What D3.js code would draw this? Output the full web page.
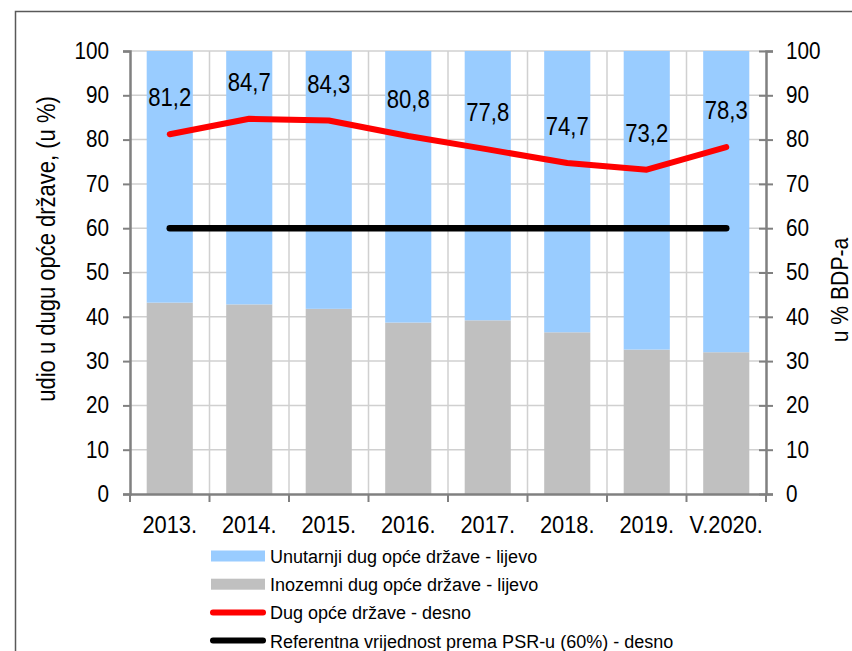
<!DOCTYPE html>
<html>
<head>
<meta charset="utf-8">
<script src="https://cdn.jsdelivr.net/npm/d3@7"></script>
<style>
    body { margin: 0; background: #fff; }
    svg { display: block; font-family: "Liberation Sans", Arial, sans-serif; }
</style>
</head>
<body>
<div id="chart"></div>
<script>
// data
const years = ["2013.", "2014.", "2015.", "2016.", "2017.", "2018.", "2019.", "V.2020."];
const foreignDebt = [43.2, 42.8, 41.8, 38.7, 39.2, 36.5, 32.6, 32.0];   // Inozemni, share in %
const domesticDebt = foreignDebt.map(v => +(100 - v).toFixed(1));     // Unutarnji, rest up to 100 %
const debtGdp = [81.2, 84.7, 84.3, 80.8, 77.8, 74.7, 73.2, 78.3];     // Dug opće države, % BDP-a
const referenceValue = [60, 60, 60, 60, 60, 60, 60, 60];                // PSR reference
const yTicks = [0, 10, 20, 30, 40, 50, 60, 70, 80, 90, 100];
const legendItems = [
    { label: "Unutarnji dug opće države - lijevo", type: "rect", colour: "#99ccff" },
    { label: "Inozemni dug opće države - lijevo", type: "rect", colour: "#c0c0c0" },
    { label: "Dug opće države - desno", type: "line", colour: "#ff0000" },
    { label: "Referentna vrijednost prema PSR-u (60%) - desno", type: "line", colour: "#000000" }
];

const W = 852, H = 651;
const margin = { top: 51, right: 86, bottom: 157, left: 130 };
const width = W - margin.left - margin.right;
const height = H - margin.top - margin.bottom;

// the original text is slightly condensed, squeeze it horizontally
function squeeze(sel, sx) {
    sel.each(function(){
        const t = d3.select(this);
        const x0 = +t.attr("x") || 0;
        t.attr("x", x0 / sx).attr("transform", "scale(" + sx + ",1)");
    });
}

const svg = d3.select("#chart").append("svg")
    .attr("width", W)
    .attr("height", H);

// outer frame (runs off the right and bottom edge like the original)
svg.append("rect")
    .attr("x", 15.5).attr("y", 11.5)
    .attr("width", W + 10).attr("height", H + 10)
    .attr("fill", "none")
    .attr("stroke", "#595959")
    .attr("stroke-width", 1.5);

const g = svg.append("g")
    .attr("transform", "translate(" + margin.left + "," + margin.top + ")");

// scales
const x = d3.scaleBand()
    .domain(years)
    .range([0, width])
    .paddingInner(0.42)
    .paddingOuter(0.21);

const yLeft = d3.scaleLinear().domain([0, 100]).range([height, 0]);
const yRight = d3.scaleLinear().domain([0, 100]).range([height, 0]);

const gap = (x.step() - x.bandwidth()) / 2;
const boundaries = years.map(d => x(d) - gap).concat([width]);
const centre = d => x(d) + x.bandwidth() / 2;

// gridlines
g.append("g").selectAll("line.h")
    .data(yTicks.slice(1))
    .join("line")
    .attr("x1", 0).attr("x2", width)
    .attr("y1", d => yLeft(d)).attr("y2", d => yLeft(d))
    .attr("stroke", "#d0d0d0")
    .attr("stroke-width", 1.5);

g.append("g").selectAll("line.v")
    .data(boundaries.slice(1, -1))
    .join("line")
    .attr("x1", d => d).attr("x2", d => d)
    .attr("y1", 0).attr("y2", height)
    .attr("stroke", "#d0d0d0")
    .attr("stroke-width", 1.5);

// stacked bars
g.append("g").selectAll("rect")
    .data(years)
    .join("rect")
    .attr("x", d => x(d))
    .attr("width", x.bandwidth())
    .attr("y", (d, i) => yLeft(foreignDebt[i]))
    .attr("height", (d, i) => height - yLeft(foreignDebt[i]))
    .attr("fill", "#c0c0c0");

g.append("g").selectAll("rect")
    .data(years)
    .join("rect")
    .attr("x", d => x(d))
    .attr("width", x.bandwidth())
    .attr("y", (d, i) => yLeft(foreignDebt[i] + domesticDebt[i]))
    .attr("height", (d, i) => yLeft(foreignDebt[i]) - yLeft(foreignDebt[i] + domesticDebt[i]))
    .attr("fill", "#99ccff");

// axes
const axisColour = "#808080";

const yAxisL = g.append("g")
    .call(d3.axisLeft(yLeft).tickValues(yTicks).tickSize(7).tickPadding(14));

const yAxisR = g.append("g")
    .attr("transform", "translate(" + width + ",0)")
    .call(d3.axisRight(yRight).tickValues(yTicks).tickSize(7).tickPadding(13));
yAxisR.selectAll(".tick line").attr("x1", -7);

const xAxis = g.append("g")
    .attr("transform", "translate(0," + height + ")")
    .call(d3.axisBottom(x).tickSize(0).tickPadding(23));

// boundary ticks on the category axis
xAxis.selectAll("line.bound")
    .data(boundaries)
    .join("line")
    .attr("class", "bound")
    .attr("x1", d => d).attr("x2", d => d)
    .attr("y1", 0).attr("y2", 8);

[yAxisL, yAxisR, xAxis].forEach(a => {
    a.select(".domain").attr("stroke", axisColour).attr("stroke-width", 2.5);
    a.selectAll("line").attr("stroke", axisColour).attr("stroke-width", 2);
    a.selectAll("text")
        .attr("fill", "#000")
        .style("font-family", "'Liberation Sans', Arial, sans-serif")
        .style("font-size", "23px");
});
squeeze(yAxisL.selectAll("text"), 0.9);
squeeze(yAxisR.selectAll("text"), 0.9);
squeeze(xAxis.selectAll("text"), 0.95);

// reference line and debt line (right axis)
const line = d3.line()
    .x((d, i) => centre(years[i]))
    .y(d => yRight(d));

g.append("path")
    .datum(referenceValue)
    .attr("d", line)
    .attr("fill", "none")
    .attr("stroke", "#000")
    .attr("stroke-width", 6.5)
    .attr("stroke-linecap", "round");

g.append("path")
    .datum(debtGdp)
    .attr("d", line)
    .attr("fill", "none")
    .attr("stroke", "#ff0000")
    .attr("stroke-width", 6)
    .attr("stroke-linecap", "round")
    .attr("stroke-linejoin", "round");

// value labels
const hr = d3.formatLocale({ decimal: ",", thousands: ".", grouping: [3], currency: ["", " kn"] });
const fmt = hr.format(".1f");

const labels = g.append("g").selectAll("g")
    .data(debtGdp)
    .join("g")
    .attr("transform", (d, i) => "translate(" + centre(years[i]) + "," + (yRight(d) - 28) + ")");

labels.append("text")
    .attr("text-anchor", "middle")
    .attr("font-size", "26px")
    .attr("fill", "#000")
    .text(d => fmt(d))
    .call(squeeze, 0.85);

// axis titles
svg.append("g")
    .attr("transform", "translate(55,249) rotate(-90)")
    .append("text")
    .attr("text-anchor", "middle")
    .attr("font-size", "25px")
    .text("udio u dugu opće države, (u %)")
    .call(squeeze, 0.88);

svg.append("g")
    .attr("transform", "translate(848,290) rotate(-90)")
    .append("text")
    .attr("text-anchor", "middle")
    .attr("font-size", "23px")
    .text("u % BDP-a")
    .call(squeeze, 0.92);

// legend (last row is clipped by the picture edge, as in the original)
const legend = svg.append("g")
    .attr("transform", "translate(211,556)");

const rows = legend.selectAll("g")
    .data(legendItems)
    .join("g")
    .attr("transform", (d, i) => "translate(0," + (i * 28.2) + ")");

rows.filter(d => d.type === "rect").append("rect")
    .attr("x", 0).attr("y", -5.5)
    .attr("width", 54).attr("height", 11)
    .attr("fill", d => d.colour);

rows.filter(d => d.type === "line").append("line")
    .attr("x1", 2).attr("x2", 52)
    .attr("y1", 0).attr("y2", 0)
    .attr("stroke", d => d.colour)
    .attr("stroke-width", 6)
    .attr("stroke-linecap", "round");

rows.append("text")
    .attr("x", 59)
    .attr("y", 7)
    .attr("font-size", "18px")
    .attr("fill", "#000")
    .text(d => d.label);
</script>
</body>
</html>
